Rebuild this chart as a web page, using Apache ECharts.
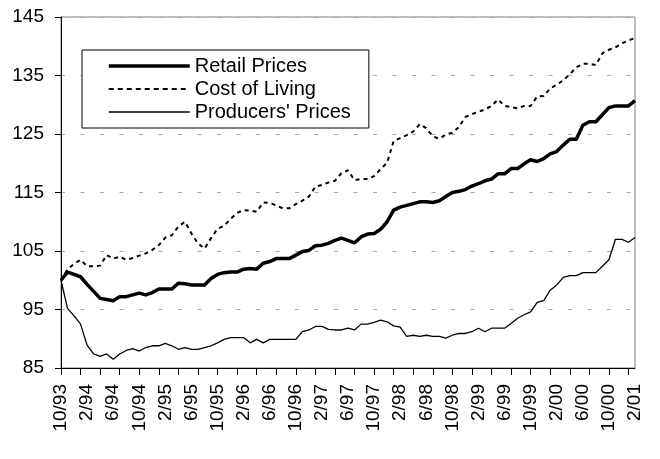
<!DOCTYPE html>
<html>
<head>
<meta charset="utf-8">
<script src="https://cdn.jsdelivr.net/npm/echarts@6/dist/echarts.min.js"></script>
<style>
html,body{margin:0;padding:0;background:#fff;}
#chart{width:660px;height:459px;}
</style>
</head>
<body>
<div id="chart"></div>
<script>
var months = [
  '10/93','11/93','12/93',
  '1/94','2/94','3/94','4/94','5/94','6/94','7/94','8/94','9/94','10/94','11/94','12/94',
  '1/95','2/95','3/95','4/95','5/95','6/95','7/95','8/95','9/95','10/95','11/95','12/95',
  '1/96','2/96','3/96','4/96','5/96','6/96','7/96','8/96','9/96','10/96','11/96','12/96',
  '1/97','2/97','3/97','4/97','5/97','6/97','7/97','8/97','9/97','10/97','11/97','12/97',
  '1/98','2/98','3/98','4/98','5/98','6/98','7/98','8/98','9/98','10/98','11/98','12/98',
  '1/99','2/99','3/99','4/99','5/99','6/99','7/99','8/99','9/99','10/99','11/99','12/99',
  '1/00','2/00','3/00','4/00','5/00','6/00','7/00','8/00','9/00','10/00','11/00','12/00',
  '1/01','2/01'
];

var retailPrices = [
  100.0,101.4,101.0,100.6,99.3,98.1,96.9,96.7,96.5,97.2,
  97.2,97.5,97.8,97.5,97.9,98.5,98.5,98.5,99.5,99.4,
  99.2,99.2,99.2,100.3,101.0,101.3,101.4,101.4,101.9,102.0,
  101.9,102.9,103.2,103.7,103.7,103.7,104.3,104.9,105.1,105.9,
  106.0,106.3,106.8,107.2,106.8,106.4,107.4,107.9,108.0,108.7,
  110.0,112.0,112.5,112.8,113.1,113.4,113.4,113.3,113.6,114.3,
  115.0,115.2,115.5,116.1,116.5,117.0,117.3,118.2,118.2,119.1,
  119.1,119.9,120.6,120.3,120.8,121.6,122.0,123.1,124.1,124.1,
  126.5,127.1,127.1,128.3,129.5,129.8,129.8,129.8,130.7
];

var costOfLiving = [
  100.0,101.9,102.8,103.5,102.4,102.4,102.5,104.3,103.7,104.0,
  103.5,103.8,104.2,104.6,105.2,106.0,107.3,107.7,109.2,110.0,
  108.0,106.3,105.4,107.2,108.8,109.3,110.5,111.5,112.0,111.9,
  111.7,113.3,113.2,112.8,112.3,112.3,113.0,113.6,114.3,116.0,
  116.3,116.7,117.0,118.3,118.8,117.1,117.3,117.3,117.8,119.0,
  120.1,123.8,124.3,124.8,125.4,126.7,126.0,124.6,124.2,124.9,
  125.2,126.2,127.9,128.4,128.8,129.2,129.8,130.9,129.8,129.6,
  129.4,129.8,129.8,131.4,131.5,132.8,133.4,134.2,135.2,136.4,
  137.0,137.0,136.8,138.8,139.4,139.8,140.5,141.0,141.4
];

var producersPrices = [
  100.0,95.2,93.9,92.5,88.9,87.4,87.0,87.4,86.5,87.4,
  88.0,88.3,87.9,88.5,88.8,88.8,89.2,88.8,88.2,88.5,
  88.2,88.2,88.5,88.8,89.3,89.9,90.2,90.2,90.2,89.3,
  89.9,89.3,89.9,89.9,89.9,89.9,89.9,91.2,91.5,92.1,
  92.1,91.6,91.5,91.5,91.8,91.5,92.5,92.5,92.8,93.2,
  92.9,92.2,92.0,90.4,90.6,90.4,90.6,90.4,90.4,90.1,
  90.6,90.9,90.9,91.2,91.8,91.2,91.8,91.8,91.8,92.6,
  93.5,94.1,94.6,96.2,96.5,98.3,99.2,100.5,100.8,100.8,
  101.3,101.3,101.3,102.4,103.5,107.0,107.0,106.5,107.3
];

var seriesNames = ['Retail Prices', 'Cost of Living', "Producers' Prices"];
var yMin = 85, yMax = 145, yStep = 10;

var FONT = '"Liberation Sans", Arial, sans-serif';
var chart = echarts.init(document.getElementById('chart'), null, {renderer: 'canvas'});

var option = {
  animation: false,
  backgroundColor: '#ffffff',
  grid: {
    left: 61, right: 25, top: 17, bottom: 91,
    show: true, borderColor: '#808080', borderWidth: 1, backgroundColor: 'transparent'
  },
  legend: {
    orient: 'vertical',
    left: 82, top: 50,
    padding: [6, 18, 6, 25],
    borderColor: '#000', borderWidth: 1,
    backgroundColor: '#fff',
    itemWidth: 81, itemHeight: 20, itemGap: 3,
    icon: undefined,
    selectedMode: false,
    itemStyle: {color: 'rgba(0,0,0,0)', borderWidth: 0, opacity: 0},
    textStyle: {fontFamily: FONT, fontSize: 20, color: '#000', padding: [0,0,0,0]},
    data: [
      {name: seriesNames[0], lineStyle: {width: 3.5, type: 'solid', color: '#000'}},
      {name: seriesNames[1], lineStyle: {width: 2, type: [5, 4], color: '#000'}},
      {name: seriesNames[2], lineStyle: {width: 1.3, type: 'solid', color: '#000'}}
    ]
  },
  xAxis: {
    type: 'category',
    data: months,
    boundaryGap: false,
    axisLine: {lineStyle: {color: '#000', width: 1}},
    axisTick: {show: true, interval: 2, length: 7, lineStyle: {color: '#000'}},
    axisLabel: {
      interval: 3, rotate: 90, margin: 16,
      fontFamily: FONT, fontSize: 19, color: '#000'
    },
    splitLine: {show: false}
  },
  yAxis: {
    type: 'value',
    min: yMin, max: yMax, interval: yStep,
    axisLine: {show: true, lineStyle: {color: '#000', width: 1}},
    axisTick: {show: true, length: 6, lineStyle: {color: '#000'}},
    axisLabel: {margin: 17, fontFamily: FONT, fontSize: 19, color: '#000'},
    splitLine: {show: true, lineStyle: {color: '#a8a8a8', width: 1, type: [4, 15.5]}}
  },
  series: [
    {
      name: seriesNames[0], type: 'line', data: retailPrices,
      symbol: 'none', showSymbol: false, smooth: false, z: 4,
      lineStyle: {color: '#000', width: 3.5, join: 'round'},
      itemStyle: {color: '#000'}
    },
    {
      name: seriesNames[1], type: 'line', data: costOfLiving,
      symbol: 'none', showSymbol: false, smooth: false, z: 3,
      lineStyle: {color: '#000', width: 2, type: [4, 4]},
      itemStyle: {color: '#000'}
    },
    {
      name: seriesNames[2], type: 'line', data: producersPrices,
      symbol: 'none', showSymbol: false, smooth: false, z: 3,
      lineStyle: {color: '#000', width: 1.3},
      itemStyle: {color: '#000'}
    }
  ]
};
chart.setOption(option);
</script>
</body>
</html>
